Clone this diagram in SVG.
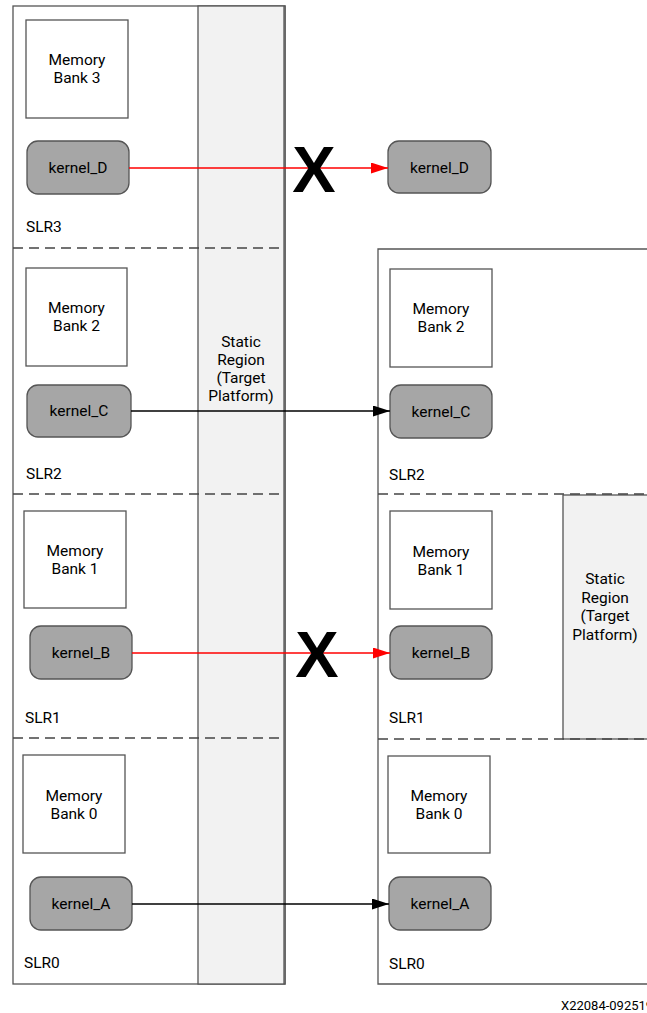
<svg xmlns="http://www.w3.org/2000/svg" width="647" height="1013" viewBox="0 0 647 1013">
<style>
text{font-family:Roboto,"Liberation Sans",sans-serif;font-size:15.5px;fill:#000}
.c{text-anchor:middle}
.mem{fill:#fff;stroke:#555;stroke-width:1.3}
.k{fill:#a6a6a6;stroke:#555;stroke-width:1.3}
.outer{fill:#fff;stroke:#555;stroke-width:1.3}
.stat{fill:#f2f2f2;stroke:#555;stroke-width:1.3}
.dash{stroke:#444;stroke-width:1.3;stroke-dasharray:10,6;fill:none}
.x{font-family:"Liberation Sans",Arial,sans-serif;font-weight:bold;font-size:65px;text-anchor:middle}
</style>
<defs>
<marker id="ah" markerWidth="17" markerHeight="11" refX="17" refY="5.5" orient="auto" markerUnits="userSpaceOnUse"><path d="M0,0 L17,5.5 L0,11 z" fill="#000"/></marker>
<marker id="ahr" markerWidth="17" markerHeight="11" refX="17" refY="5.5" orient="auto" markerUnits="userSpaceOnUse"><path d="M0,0 L17,5.5 L0,11 z" fill="#f00"/></marker>
</defs>
<g id="left-device">
<rect class="outer" x="13" y="6" width="272" height="978"/>
<rect class="stat" x="198" y="6" width="87" height="978"/>
<line x1="284" y1="6" x2="284" y2="984" stroke="#555" stroke-width="1.3"/>
<path class="dash" d="M13,248 H284 M13,494 H284 M13,738 H284"/>
<text class="c" x="241" y="347">Static</text>
<text class="c" x="241" y="365">Region</text>
<text class="c" x="241" y="383">(Target</text>
<text class="c" x="241" y="401">Platform)</text>
</g>
<g id="right-device">
<path class="outer" d="M647,249 H378 V984 H647"/>
<rect class="stat" x="563" y="495" width="90" height="244"/>
<path class="dash" d="M378,494 H647 M378,739 H647"/>
<text class="c" x="605" y="584">Static</text>
<text class="c" x="605" y="603">Region</text>
<text class="c" x="605" y="621">(Target</text>
<text class="c" x="605" y="640">Platform)</text>
</g>
<g id="slr3-left">
<rect class="mem" x="26" y="20" width="102" height="98"/>
<text class="c" x="77" y="65">Memory</text>
<text class="c" x="77" y="83">Bank 3</text>
<text x="26" y="232">SLR3</text>
</g>
<g id="kernel_D-left"><rect class="k" x="27" y="141" width="102" height="53" rx="11"/><text class="c" x="78" y="173">kernel_D</text></g>
<g id="kernel_D-right"><rect class="k" x="388" y="141" width="103" height="52" rx="11"/><text class="c" x="439.5" y="173">kernel_D</text></g>
<g id="slr2-left">
<rect class="mem" x="26" y="268" width="101" height="98"/>
<text class="c" x="76.5" y="313">Memory</text>
<text class="c" x="76.5" y="331">Bank 2</text>
<text x="26" y="479">SLR2</text>
</g>
<g id="kernel_C-left"><rect class="k" x="27" y="385" width="104" height="52" rx="11"/><text class="c" x="79" y="416">kernel_C</text></g>
<g id="slr1-left">
<rect class="mem" x="24" y="511" width="102" height="97"/>
<text class="c" x="75" y="556">Memory</text>
<text class="c" x="75" y="574">Bank 1</text>
<text x="25" y="723">SLR1</text>
</g>
<g id="kernel_B-left"><rect class="k" x="30" y="626" width="102" height="53" rx="11"/><text class="c" x="81" y="658">kernel_B</text></g>
<g id="slr0-left">
<rect class="mem" x="23" y="755" width="102" height="98"/>
<text class="c" x="74" y="801">Memory</text>
<text class="c" x="74" y="819">Bank 0</text>
<text x="24" y="968">SLR0</text>
</g>
<g id="kernel_A-left"><rect class="k" x="30" y="877" width="102" height="53" rx="11"/><text class="c" x="81" y="909">kernel_A</text></g>
<g id="slr2-right">
<rect class="mem" x="390" y="269" width="102" height="98"/>
<text class="c" x="441" y="314">Memory</text>
<text class="c" x="441" y="332">Bank 2</text>
<text x="389" y="480">SLR2</text>
</g>
<g id="kernel_C-right"><rect class="k" x="390" y="385" width="102" height="53" rx="11"/><text class="c" x="441" y="417">kernel_C</text></g>
<g id="slr1-right">
<rect class="mem" x="390" y="511" width="102" height="98"/>
<text class="c" x="441" y="557">Memory</text>
<text class="c" x="441" y="575">Bank 1</text>
<text x="389" y="723">SLR1</text>
</g>
<g id="kernel_B-right"><rect class="k" x="390" y="626" width="102" height="53" rx="11"/><text class="c" x="441" y="658">kernel_B</text></g>
<g id="slr0-right">
<rect class="mem" x="388" y="756" width="102" height="97"/>
<text class="c" x="439" y="801">Memory</text>
<text class="c" x="439" y="819">Bank 0</text>
<text x="389" y="969">SLR0</text>
</g>
<g id="kernel_A-right"><rect class="k" x="389" y="877" width="102" height="53" rx="11"/><text class="c" x="440" y="909">kernel_A</text></g>
<g id="connectors">
<line x1="129" y1="168" x2="388" y2="168" stroke="#f00" stroke-width="1.3" marker-end="url(#ahr)"/>
<line x1="131" y1="411" x2="390" y2="411" stroke="#000" stroke-width="1.3" marker-end="url(#ah)"/>
<line x1="132" y1="653" x2="390" y2="653" stroke="#f00" stroke-width="1.3" marker-end="url(#ahr)"/>
<line x1="132" y1="904" x2="389" y2="904" stroke="#000" stroke-width="1.3" marker-end="url(#ah)"/>
<text class="x" x="314" y="192">X</text>
<text class="x" x="317" y="677">X</text>
</g>
<text x="561" y="1010" style="font-size:13px">X22084-092519</text>
</svg>
